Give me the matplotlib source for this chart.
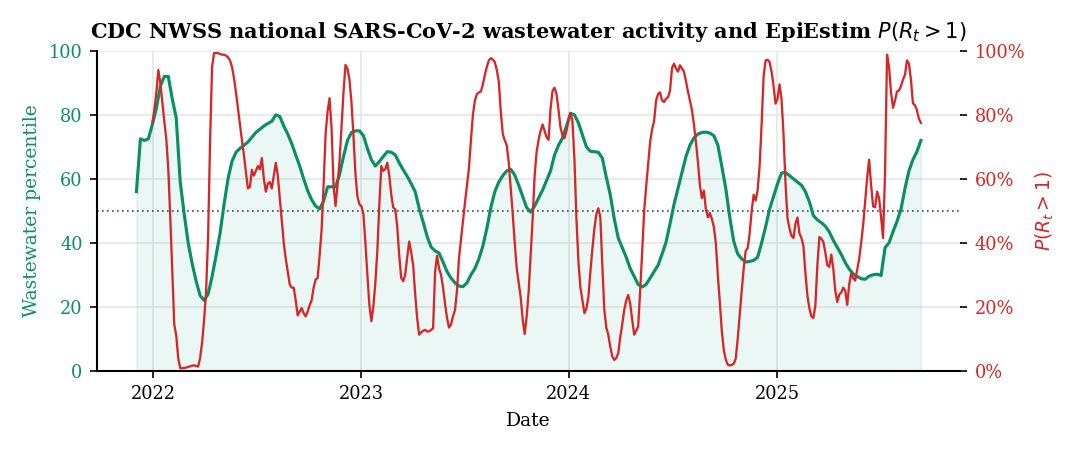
import numpy as np
import pandas as pd
import matplotlib
matplotlib.use("Agg")
import matplotlib.pyplot as plt
import matplotlib.dates as mdates
from matplotlib.ticker import PercentFormatter

# ---------------- data ----------------
ww_start = "2021-12-02"   # weekly wastewater percentile
ww_values = [
    56, 72.5, 72, 72.5, 77, 82, 89, 92, 92, 85,
    79, 59, 49, 40, 33.5, 28, 23.5, 22, 24, 29.5,
    36, 43, 52, 60, 65.5, 68.3, 69.5, 70.5, 71.5, 73,
    74.5, 75.5, 76.5, 77.3, 78, 80, 79.5, 76.5, 74, 71,
    67.5, 64, 60, 56.3, 53.5, 51.5, 50.6, 53, 57.5, 57.5,
    57.5, 61.3, 67, 72, 74.5, 75, 75, 73.5, 69.5, 66,
    64, 65.4, 67, 68.5, 68.3, 67.5, 65, 62.8, 60.8, 58.5,
    56, 50.8, 46.5, 42, 38.7, 37.5, 36.8, 34, 31, 29,
    27.5, 26.5, 26.3, 27.5, 30, 32, 35, 39, 44.5, 51,
    56, 59, 61, 62.5, 63, 61.2, 58, 54.5, 51, 49.6,
    51.5, 54, 56.5, 59.5, 62.5, 67.5, 70.5, 72.8, 76.5, 80.5,
    80, 77.5, 73.7, 70, 68.6, 68.5, 68.3, 66.5, 60.5, 55,
    47.5, 41.5, 38.5, 35.5, 32, 29.5, 27, 26.2, 27, 29,
    31, 33, 36.5, 40.2, 46, 52, 57, 62, 67, 70.5,
    72.8, 74, 74.5, 74.6, 74.3, 73.5, 70.6, 64, 57, 48,
    40.5, 36.5, 35, 34, 34.2, 34.5, 35.5, 40, 45, 50.5,
    54.5, 58.5, 61.8, 62, 61, 60, 59, 58, 56, 52.8,
    48.5, 47.2, 46.3, 45.2, 43.4, 40.8, 38.6, 36.4, 33.8, 31.8,
    30.3, 29.5, 28.8, 28.6, 29.6, 30, 30.2, 29.8, 38.5, 40,
    43.5, 46.7, 50.5, 57, 62.5, 66, 68.5, 72,
]

rt_start = "2021-12-30"   # EpiEstim P(Rt>1), sampled every 3.5 days
rt_values = [
    77.5, 81.5, 87, 94, 90, 84, 78, 72.5, 63, 48,
    31, 14.5, 11, 4, 0.8, 0.8, 0.9, 1, 1.2, 1.4,
    1.6, 1.7, 1.5, 1.3, 4, 9, 16, 25, 42, 72,
    95, 99.3, 99.3, 99.3, 99, 98.8, 98.8, 98.5, 98, 97,
    95, 91.5, 87, 82, 77, 72, 67.5, 62, 57, 57.5,
    62.8, 61, 62.5, 64, 63, 66.5, 60, 56, 58.5, 59,
    57, 61, 65, 61, 54, 47, 40, 35, 31, 27,
    26, 26, 22, 17.3, 18.5, 19.6, 18, 17, 18.5, 20.5,
    22, 26, 28.5, 29, 36, 44, 58, 74, 81, 85.2,
    76, 58, 51.5, 58, 65.4, 76, 87, 95.6, 94.5, 91,
    84, 73.5, 61.5, 54.5, 52, 51.5, 49, 40, 30, 20.6,
    15.5, 20, 27.5, 37.5, 52, 64, 62.5, 63, 65, 61,
    55, 51, 50.5, 45, 36, 29, 28, 30, 35.5, 40.4,
    37, 33, 24, 16.5, 11.3, 12, 12.5, 12.8, 12.3, 12.3,
    12.8, 13.3, 31, 36, 32, 30, 26, 21, 16.5, 13.5,
    14.5, 17, 19, 25, 35.2, 41, 46.5, 52.5, 58, 63.3,
    72, 80, 84.5, 86.5, 87, 87.3, 89.5, 92.5, 95, 97,
    97.7, 97.3, 96.5, 94, 90.4, 81, 74, 72, 70.5, 65,
    57, 49, 40, 32, 27.5, 23, 16, 11.5, 17, 24.8,
    36, 47.5, 61, 68.5, 72.2, 75, 77, 75, 73, 72.2,
    82, 87.5, 88.5, 86.5, 81.5, 76, 73.5, 72.7, 75, 78.4,
    80.5, 78, 66, 47.5, 34, 26, 22, 18, 19.5, 23,
    31, 38, 44.5, 49, 50.8, 48, 33, 19, 13.5, 11.3,
    7.5, 4.5, 3.4, 4, 5.5, 10.5, 14.5, 19, 22, 23.7,
    21, 16, 11.3, 12.5, 13.8, 25, 37, 49.8, 57.5, 64.5,
    71.5, 75.5, 78, 84.5, 86.5, 87, 84.5, 84, 85, 85.5,
    87.5, 94.6, 96, 94.5, 93.5, 95.5, 94.5, 93.5, 90.5, 87.3,
    84.5, 81.5, 77, 71.5, 65.4, 58, 54, 56.3, 50.5, 48,
    49.3, 47.5, 45, 40, 30, 21.5, 12.5, 6.5, 3.5, 1.9,
    1.7, 1.8, 2.2, 3.8, 10, 17.5, 25, 32, 37.5, 38.3,
    43, 50, 55, 53.2, 56.5, 64, 77, 92, 97, 97.2,
    96.5, 93.5, 89, 83.5, 85, 89.5, 85, 74, 58.5, 47.7,
    44.5, 42.2, 41.5, 46, 47.9, 43, 41.5, 39, 30.5, 23.5,
    19.5, 17, 16.5, 20.5, 33, 41.8, 41.3, 40.3, 37, 33,
    32.5, 36.3, 32, 25, 21.5, 23.8, 24.5, 26, 25, 20.6,
    27, 30.5, 29, 28.2, 31.5, 35, 40, 45.6, 53, 60.2,
    66, 58, 51.4, 51.1, 56, 54, 48, 41.5, 62, 98.8,
    95, 87, 82.2, 84.5, 87.3, 87.6, 89, 91, 92.5, 97,
    96, 91, 83.6, 83, 81.5, 78.8, 77.5,
]

ww_dates = pd.date_range(ww_start, periods=len(ww_values), freq="7D")
rt_dates = pd.date_range(rt_start, periods=len(rt_values), freq="84h")
rt_prob = np.array(rt_values) / 100.0

title = "CDC NWSS national SARS-CoV-2 wastewater activity and EpiEstim $P(R_t > 1)$"
GREEN = "#0a8f62"
RED = "#d62728"

# ---------------- plot ----------------
plt.rcParams["font.family"] = ["DejaVu Serif"]
plt.rcParams["mathtext.fontset"] = "dejavusans"

fig = plt.figure(figsize=(7.2, 3.0), dpi=150)
ax = fig.add_axes([0.09, 0.176, 0.799, 0.711])

ax.fill_between(ww_dates, ww_values, 0, color="#009E73", alpha=0.08, lw=0.8)
ax.plot(ww_dates, ww_values, color=GREEN, lw=1.5, zorder=3)
ax.axhline(50, color="#3b4a5e", lw=0.8, ls=(0, (1, 2)), zorder=2)
ax.set_ylim(0, 100)
ax.set_yticks([0, 20, 40, 60, 80, 100])
ax.grid(True, color="#e6e6e6", lw=0.8)
ax.set_axisbelow(True)
for s in ["top", "right"]:
    ax.spines[s].set_visible(False)
ax.spines["left"].set_linewidth(1.0)
ax.spines["bottom"].set_linewidth(1.0)
ax.tick_params(axis="y", labelcolor=GREEN, labelsize=8.5)
ax.tick_params(axis="x", labelsize=8.5)
ax.set_ylabel("Wastewater percentile", color=GREEN, fontsize=9)
ax.set_xlabel("Date", fontsize=9)
ax.xaxis.set_major_locator(mdates.YearLocator())
ax.xaxis.set_major_formatter(mdates.DateFormatter("%Y"))

ax2 = ax.twinx()
ax2.plot(rt_dates, rt_prob, color=RED, lw=1.1, zorder=3)
ax2.set_ylim(0, 1)
ax2.set_yticks([0, 0.2, 0.4, 0.6, 0.8, 1.0])
ax2.yaxis.set_major_formatter(PercentFormatter(1.0, decimals=0))
for s in ax2.spines.values():
    s.set_visible(False)
ax2.tick_params(axis="y", labelcolor=RED, labelsize=8.5)
ax2.set_ylabel("$P(R_t > 1)$", color=RED, fontsize=9)

ax.set_title(title, fontsize=10, fontweight="bold", pad=6)

fig.savefig("out.png", dpi=150)
